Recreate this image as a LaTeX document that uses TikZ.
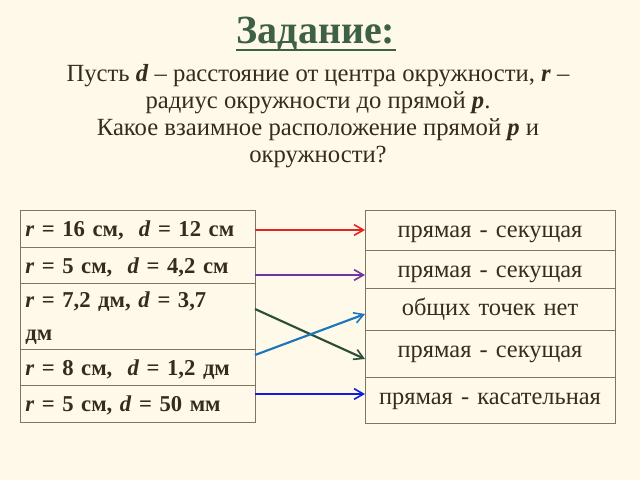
\documentclass[tikz,border=0pt]{standalone}
\usepackage{fontspec}
\setmainfont{Liberation Serif}
\usepackage{tikz}
\usetikzlibrary{calc}
\usetikzlibrary{arrows.meta}

\definecolor{paper}{RGB}{254,249,232}
\definecolor{ink}{RGB}{52,44,28}
\definecolor{frame}{RGB}{125,118,100}
\definecolor{titlegreen}{RGB}{62,96,70}
\definecolor{arred}{RGB}{232,32,30}
\definecolor{arpurple}{RGB}{112,52,160}
\definecolor{argreen}{RGB}{44,78,56}
\definecolor{arcyan}{RGB}{28,118,190}
\definecolor{arblue}{RGB}{16,30,222}

\begin{document}
\begin{tikzpicture}[x=0.75pt,y=-0.75pt,
    lcell/.style={draw=frame,line width=0.75pt,anchor=north west,outer sep=0pt,
      inner xsep=4pt,text width=168.25pt,align=left,text=ink,
      text height=12pt,text depth=0pt,
      font=\fontsize{17}{19}\selectfont\bfseries},
    rcell/.style={draw=frame,line width=0.75pt,anchor=north west,outer sep=0pt,
      inner xsep=2pt,inner ysep=0pt,text width=183.5pt,align=center,text=ink,
      text height=20.25pt,text depth=#1,
      font=\fontsize{18.3}{20}\selectfont},
    arr/.style={line width=1.6pt,-{Straight Barb[length=7pt,width=8pt,line width=1.2pt]}}]
  \fill[paper] (0,0) rectangle (640,480);
  \useasboundingbox (0,0) rectangle (640,480);

  \node[inner sep=0pt,anchor=base,text=titlegreen,font=\fontsize{30}{34}\selectfont\bfseries] (title) at (316,43) {Задание:};
  \draw[titlegreen,line width=1.5pt] ($(title.base west)+(0,7)$)--($(title.base east)+(0,7)$);

  \node[align=center,text=ink,font=\fontsize{18.5}{20.4}\selectfont] (task) at (318,116)
    {Пусть \textbf{\textit{d}} – расстояние от центра окружности, \textbf{\textit{r}} –\\
     радиус окружности до прямой \textbf{\textit{p}}.\\
     Какое взаимное расположение прямой \textbf{\textit{p}} и\\
     окружности?};

  \node[lcell,minimum height=27.75pt] (l1) at (20,210) {\textit{r} = 16 см, \ \textit{d} = 12 см};
  \node[lcell,minimum height=27pt] (l2) at (l1.south west) {\textit{r} = 5 см, \ \textit{d} = 4,2 см};
  \node[lcell,minimum height=49.5pt,text depth=25pt] (l3) at (l2.south west) {\textit{r} = 7,2 дм, \textit{d} = 3,7\\[6pt]дм};
  \node[lcell,minimum height=27pt] (l4) at (l3.south west) {\textit{r} = 8 см, \ \textit{d} = 1,2 дм};
  \node[lcell,minimum height=27.75pt] (l5) at (l4.south west) {\textit{r} = 5 см, \textit{d} = 50 мм};

  \node[rcell=9.75pt] (r1) at (365,210) {прямая - секущая};
  \node[rcell=8.25pt] (r2) at (r1.south west) {прямая - секущая};
  \node[rcell=11.25pt] (r3) at (r2.south west) {общих точек нет};
  \node[rcell=15pt] (r4) at (r3.south west) {прямая - секущая};
  \node[rcell=14.25pt] (r5) at (r4.south west) {прямая - касательная};

  \draw[arr,arred] ($(l1.east)+(0,1.5)$)--(r1.west);
  \draw[arr,arpurple] ($(l2.east)+(0,10)$)--($(r2.west)+(0,6)$);
  \draw[arr,argreen] ($(l3.east)+(0,-7)$)--($(r4.west)+(0,5.5)$);
  \draw[arr,arcyan] ($(l4.east)+(0,-12)$)--($(r3.west)+(0,5)$);
  \draw[arr,arblue] ($(l5.east)+(0,-9.5)$)--($(r5.west)+(0,-6)$);
\end{tikzpicture}
\end{document}
